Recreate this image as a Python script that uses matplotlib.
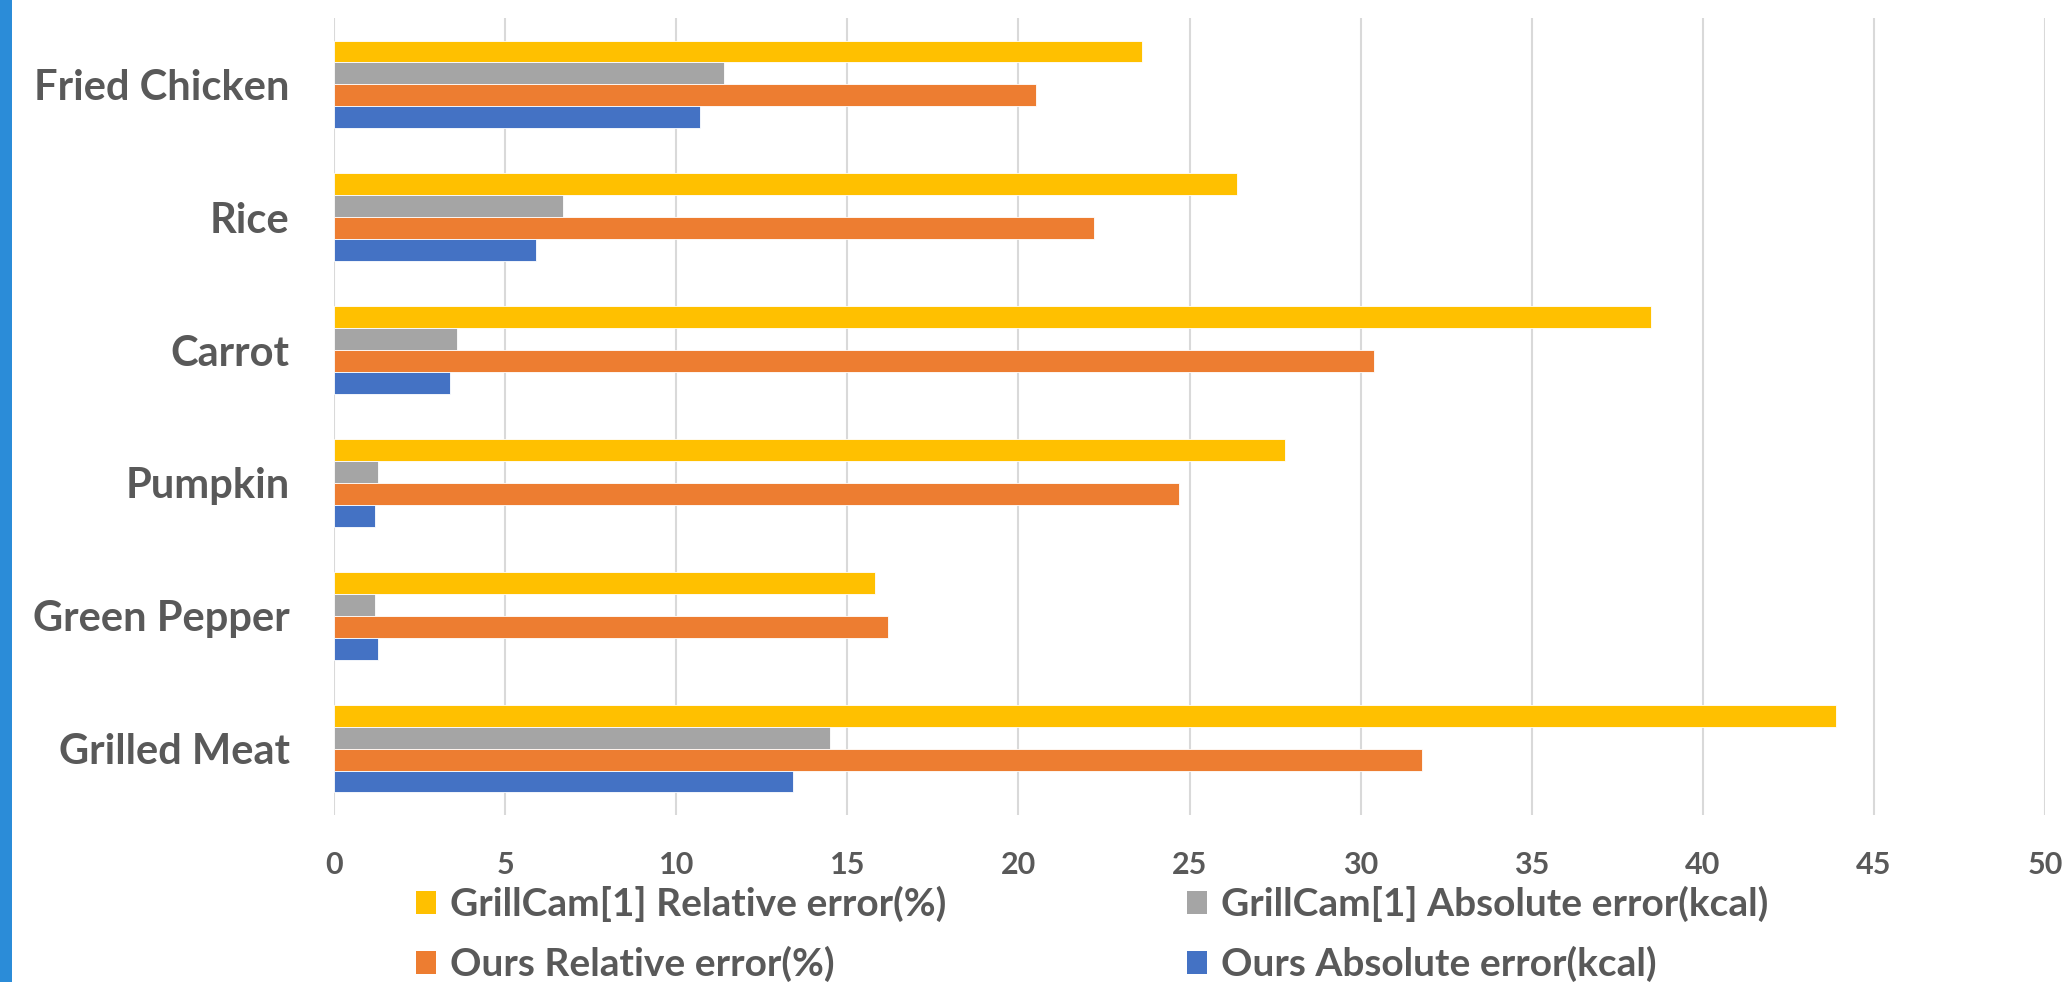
import numpy as np
import matplotlib
matplotlib.use("Agg")
import matplotlib.pyplot as plt
from matplotlib.patches import Rectangle

# Data (categories listed top to bottom)
foods = ['Fried Chicken', 'Rice', 'Carrot', 'Pumpkin', 'Green Pepper', 'Grilled Meat']
grillcam_rel = [23.6, 26.4, 38.5, 27.8, 15.8, 43.9]
grillcam_abs = [11.4, 6.7, 3.6, 1.3, 1.2, 14.5]
ours_rel = [20.5, 22.2, 30.4, 24.7, 16.2, 31.8]
ours_abs = [10.7, 5.9, 3.4, 1.2, 1.3, 13.4]

series_names = ['GrillCam[1] Relative error(%)', 'GrillCam[1] Absolute error(kcal)',
                'Ours Relative error(%)', 'Ours Absolute error(kcal)']
series_vals = [grillcam_rel, grillcam_abs, ours_rel, ours_abs]
colors = ['#FFC000', '#A5A5A5', '#ED7D31', '#4472C4']

plt.rcParams['font.family'] = ['Lato', 'DejaVu Sans']
text_color = '#595959'

W, H = 2062, 982
fig = plt.figure(figsize=(W / 100, H / 100), dpi=100)
ax = fig.add_axes([334 / W, 1 - 815 / H, (2045 - 334) / W, (815 - 18) / H])


def px(x, y):
    # pixel position (from top-left) -> figure fraction
    return x / W, 1 - y / H


# blue stripe on the left edge
fig.patches.append(Rectangle((0, 0), 12 / W, 1, transform=fig.transFigure,
                             facecolor='#2B8CD8', edgecolor='none'))

y = np.arange(len(foods))
h = 0.165
for i in range(4):
    ax.barh(y + (i - 1.5) * h, series_vals[i], height=h, color=colors[i],
            edgecolor='white', linewidth=0.6, label=series_names[i], zorder=3)

ax.set_ylim(len(foods) - 0.5, -0.5)
ax.set_yticks(y)
ax.set_yticklabels(foods)
ax.set_xlim(0, 50)
ax.set_xticks(np.arange(0, 51, 5))

ax.grid(axis='x', color='#D9D9D9', linewidth=1.5, zorder=0)
ax.grid(axis='y', visible=False)
for s in ax.spines.values():
    s.set_visible(False)

ax.tick_params(axis='y', length=0, pad=32, labelsize=30, labelcolor=text_color)
ax.tick_params(axis='x', length=0, pad=26, labelsize=22, labelcolor=text_color)
for lbl in ax.get_yticklabels() + ax.get_xticklabels():
    lbl.set_fontweight('bold')

# legend: 2 x 2 grid, rows GrillCam / Ours
leg_x = [416, 1187]
leg_y = [902, 962]
for i in range(4):
    row, col = i // 2, i % 2
    x0, yc = leg_x[col], leg_y[row]
    fx, fy = px(x0, yc + 11.5)
    fig.patches.append(Rectangle((fx, fy), 20 / W, 23 / H, transform=fig.transFigure,
                                 facecolor=colors[i], edgecolor='none'))
    tx, ty = px(x0 + 34, yc + 14)
    fig.text(tx, ty, series_names[i], fontsize=28, fontweight='bold',
             color=text_color, va='baseline', ha='left')

fig.savefig('out.png', dpi=100)
